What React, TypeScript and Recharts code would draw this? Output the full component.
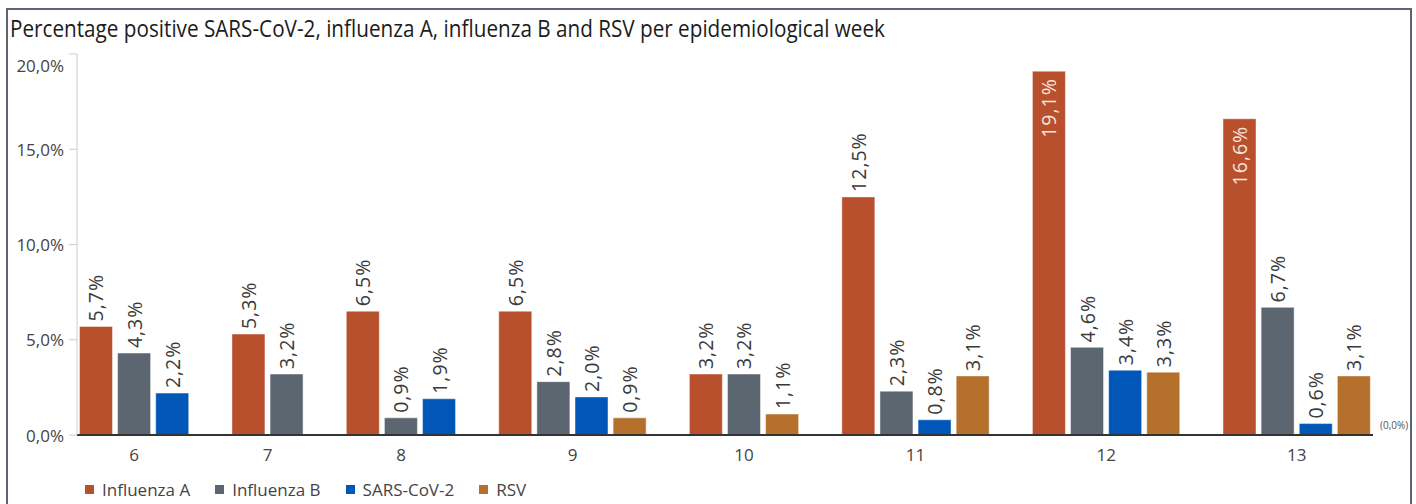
import { Bar, BarChart, LabelList, XAxis, YAxis } from 'recharts';

const weeks = ['6', '7', '8', '9', '10', '11', '12', '13'];
const influenzaA = [5.7, 5.3, 6.5, 6.5, 3.2, 12.5, 19.1, 16.6];
const influenzaB = [4.3, 3.2, 0.9, 2.8, 3.2, 2.3, 4.6, 6.7];
const sarsCov2 = [2.2, null, 1.9, 2.0, null, 0.8, 3.4, 0.6];
const rsv = [null, null, null, 0.9, 1.1, 3.1, 3.3, 3.1];
const yTicks = [0, 5, 10, 15, 20];

const series = [
  { key: 'fluA', name: 'Influenza A', color: '#b8502d', values: influenzaA },
  { key: 'fluB', name: 'Influenza B', color: '#5c6670', values: influenzaB },
  { key: 'sars', name: 'SARS-CoV-2', color: '#0057b8', values: sarsCov2 },
  { key: 'rsv', name: 'RSV', color: '#b5712c', values: rsv },
];

const W = 1416;
const H = 504;
const MARGIN = { top: 54, right: 43, left: 0, bottom: 39 };
const Y_WIDTH = 77;
const FONT = '"Open Sans", sans-serif';

// one row per drawn bar, with an empty slot between weeks
type Row = { slot: string; label?: string; shift?: number; [k: string]: any };
const rows: Row[] = [];
weeks.forEach((w, i) => {
  const present = series.filter((s) => s.values[i] != null);
  const start = rows.length;
  present.forEach((s) => rows.push({ slot: `${w}-${s.key}`, [s.key]: s.values[i] }));
  const mid = (present.length - 1) / 2;
  const at = start + Math.floor(mid);
  rows[at].label = w;
  rows[at].shift = mid - Math.floor(mid);
  if (i < weeks.length - 1) rows.push({ slot: `gap-${w}` });
});

const step = (W - Y_WIDTH - MARGIN.left - MARGIN.right) / rows.length;
const pct = (v: number) => `${v.toFixed(1).replace('.', ',')}%`;

function WeekTick(props: any) {
  const { x, y, payload } = props;
  const row = rows[payload.index];
  if (!row || !row.label) return null;
  return (
    <text x={x + (row.shift || 0) * step} y={y + 18} textAnchor="middle" fontSize={17} fill="#444" fontFamily={FONT}>
      {row.label}
    </text>
  );
}

function PctTick(props: any) {
  const { x, y, payload } = props;
  // the top label sits a little below its tick in the original
  const dy = payload.value === 20 ? 11 : 0;
  return (
    <text x={x} y={y + dy} textAnchor="end" dominantBaseline="central" fontSize={17} fill="#444" fontFamily={FONT}>
      {pct(payload.value)}
    </text>
  );
}

function BarLabel(props: any) {
  const { x, y, width, value } = props;
  if (value == null) return null;
  const cx = x + width / 2;
  const inside = value > 15;
  const ty = inside ? y + 7 : y - 5;
  return (
    <text
      x={cx}
      y={ty}
      transform={`rotate(-90, ${cx}, ${ty})`}
      textAnchor={inside ? 'end' : 'start'}
      dominantBaseline="central"
      fontSize={19.5}
      letterSpacing={1}
      fontFamily={FONT}
      fill={inside ? '#f3e4dc' : '#3a3a3a'}
    >
      {pct(value)}
    </text>
  );
}

export default function App() {
  return (
    <div style={{ position: 'absolute', left: 0, top: 0, width: W, height: H, background: '#fff', overflow: 'hidden' }}>
      <div
        style={{
          position: 'absolute',
          left: 6,
          top: 8,
          width: 1406,
          height: 520,
          border: '2px solid #5d6670',
          boxSizing: 'border-box',
        }}
      />
      <div
        style={{
          position: 'absolute',
          left: 10,
          top: 13,
          fontFamily: FONT,
          fontSize: 20.7,
          color: '#1c1c1c',
          whiteSpace: 'nowrap',
          transform: 'scaleY(1.1)',
          transformOrigin: 'left top',
        }}
      >
        Percentage positive SARS-CoV-2, influenza A, influenza B and RSV per epidemiological week
      </div>
      <BarChart width={W} height={H} data={rows} margin={MARGIN} barCategoryGap="6.5%">
        <XAxis
          dataKey="slot"
          interval={0}
          tickLine={false}
          axisLine={{ stroke: '#333', strokeWidth: 2 }}
          tick={(p: any) => <WeekTick {...p} />}
          height={30}
        />
        <YAxis
          width={Y_WIDTH}
          domain={[0, 20]}
          ticks={yTicks}
          axisLine={{ stroke: '#ccc' }}
          tickLine={{ stroke: '#ccc' }}
          tickSize={8}
          tickMargin={5}
          tick={(p: any) => <PctTick {...p} />}
        />
        {series.map((s) => (
          <Bar
            key={s.key}
            dataKey={s.key}
            name={s.name}
            stackId="all"
            fill={s.color}
            stroke="rgba(255,255,255,0.45)"
            strokeWidth={1}
            isAnimationActive={false}
          >
            <LabelList dataKey={s.key} content={(p: any) => <BarLabel {...p} />} />
          </Bar>
        ))}
      </BarChart>
      <div
        style={{
          position: 'absolute',
          left: 1380,
          top: 418,
          fontFamily: FONT,
          fontSize: 10,
          color: '#555',
        }}
      >
        (0,0%)
      </div>
      <div
        style={{
          position: 'absolute',
          left: 85,
          top: 478,
          display: 'flex',
          gap: 25,
          fontFamily: FONT,
          fontSize: 17,
          color: '#444',
        }}
      >
        {series.map((s) => (
          <div key={s.key} style={{ display: 'flex', alignItems: 'center', gap: 8 }}>
            <span style={{ width: 9, height: 9, background: s.color, display: 'inline-block' }} />
            <span>{s.name}</span>
          </div>
        ))}
      </div>
    </div>
  );
}
